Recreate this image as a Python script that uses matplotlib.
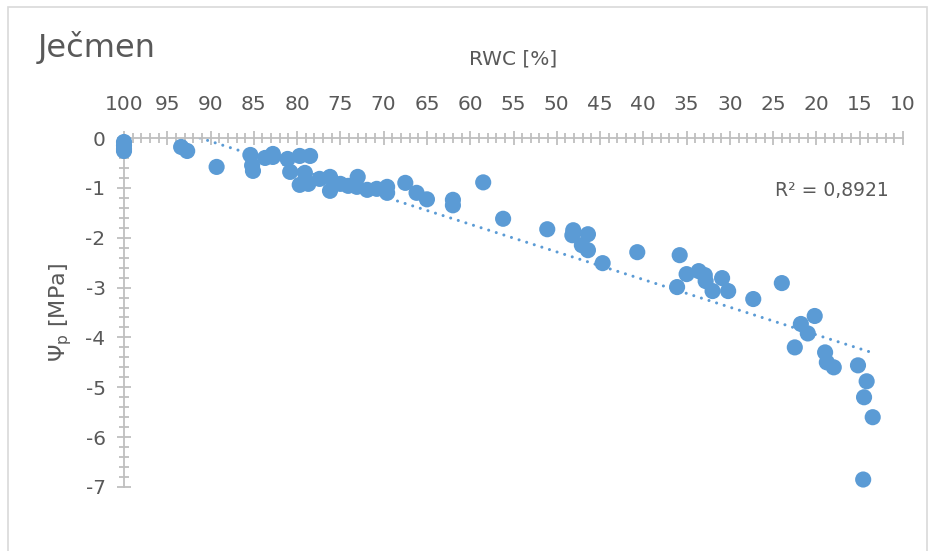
import numpy as np
import matplotlib
matplotlib.use("Agg")
import matplotlib.pyplot as plt
from matplotlib.ticker import MultipleLocator
from matplotlib.patches import Rectangle

plt.rcParams['font.family'] = ['DejaVu Sans']
plt.rcParams['axes.unicode_minus'] = False

# RWC [%] and Psi_p [MPa]
rwc = [100, 100, 100, 100, 93.4, 92.7, 89.3,
       85.4, 85.2, 85.1, 83.7, 82.8, 82.8,
       81.1, 80.8, 79.7, 78.5, 79.1, 79.7, 78.7, 77.4, 76.2, 76.2,
       75.0, 74.1, 73.0, 73.1, 71.9, 70.8, 69.6, 69.6, 67.5, 66.2,
       65.0, 62.0, 62.0, 58.5, 56.2,
       51.1, 48.1, 48.2, 46.4, 47.1, 46.4, 44.7, 40.7,
       35.8, 36.1, 35.0, 33.6, 32.9, 32.8, 30.9, 32.0, 30.2, 27.3, 24.0,
       20.2, 21.8, 21.0, 22.5, 19.0, 18.8, 18.0, 15.2, 14.2, 14.5, 13.5, 14.6]
psi = [-0.08, -0.15, -0.22, -0.26, -0.18, -0.26, -0.58,
       -0.34, -0.55, -0.66, -0.40, -0.38, -0.32,
       -0.42, -0.68, -0.36, -0.36, -0.70, -0.94, -0.92, -0.82, -0.78, -1.06,
       -0.92, -0.96, -0.78, -0.98, -1.04, -1.02, -0.98, -1.10, -0.90, -1.10,
       -1.23, -1.24, -1.35, -0.89, -1.62,
       -1.83, -1.85, -1.95, -1.93, -2.15, -2.25, -2.51, -2.29,
       -2.35, -2.99, -2.73, -2.67, -2.75, -2.87, -2.81, -3.07, -3.07, -3.23, -2.91,
       -3.57, -3.73, -3.92, -4.20, -4.30, -4.50, -4.60, -4.56, -4.88, -5.20, -5.60, -6.85]

r2_label = "R² = 0,8921"
title = "Ječmen"
xlabel = "RWC [%]"
ylabel = r"$\Psi_\mathregular{p}$ [MPa]"

blue = '#5B9BD5'
grey_txt = '#595959'
grey_axis = '#BFBFBF'

fig = plt.figure(figsize=(9.33, 5.51), dpi=100)
ax = fig.add_axes([124 / 933, 1 - 487 / 551, 779 / 933, 349 / 551])

x = np.array(rwc)
y = np.array(psi)
ax.scatter(x, y, s=135, color=blue, edgecolors='none', zorder=3, clip_on=False)

# linear trendline
k, q = np.polyfit(x, y, 1)
xt = np.array([x.max(), x.min()])
ax.plot(xt, k * xt + q, color=blue, lw=2.2, linestyle=(0, (0.01, 2.6)),
        dash_capstyle='round', zorder=2)

ax.set_xlim(100, 10)
ax.set_ylim(-7, 0)
ax.xaxis.set_major_locator(MultipleLocator(5))
ax.xaxis.set_minor_locator(MultipleLocator(1))
ax.yaxis.set_major_locator(MultipleLocator(1))
ax.yaxis.set_minor_locator(MultipleLocator(0.2))
ax.xaxis.tick_top()

for s in ['bottom', 'right']:
    ax.spines[s].set_visible(False)
for s in ['top', 'left']:
    ax.spines[s].set_color(grey_axis)
    ax.spines[s].set_linewidth(1.3)

ax.tick_params(which='major', direction='inout', length=10.5, width=1.3,
               color=grey_axis, labelcolor=grey_txt, labelsize=14.5)
ax.tick_params(which='minor', direction='inout', length=7, width=1.3, color=grey_axis)
ax.tick_params(axis='x', pad=12)
ax.tick_params(axis='y', pad=8)

ax.set_xlabel(xlabel, fontsize=14.5, color=grey_txt, labelpad=22)
ax.xaxis.set_label_position('top')
ax.set_ylabel(ylabel, fontsize=16, color=grey_txt, labelpad=8)

fig.text(38 / 933, 1 - 48 / 551, title, fontsize=23, color=grey_txt, va='center', ha='left')
ax.text(0.909, 0.851, r2_label, transform=ax.transAxes, fontsize=13.5,
        color=grey_txt, ha='center', va='center')

# chart area border
fig.patches.append(Rectangle((8 / 933, -0.02), 919 / 933, (551 - 7) / 551 + 0.02,
                             transform=fig.transFigure, fill=False,
                             edgecolor='#D9D9D9', lw=1.2))

fig.savefig('out.png', dpi=100)
